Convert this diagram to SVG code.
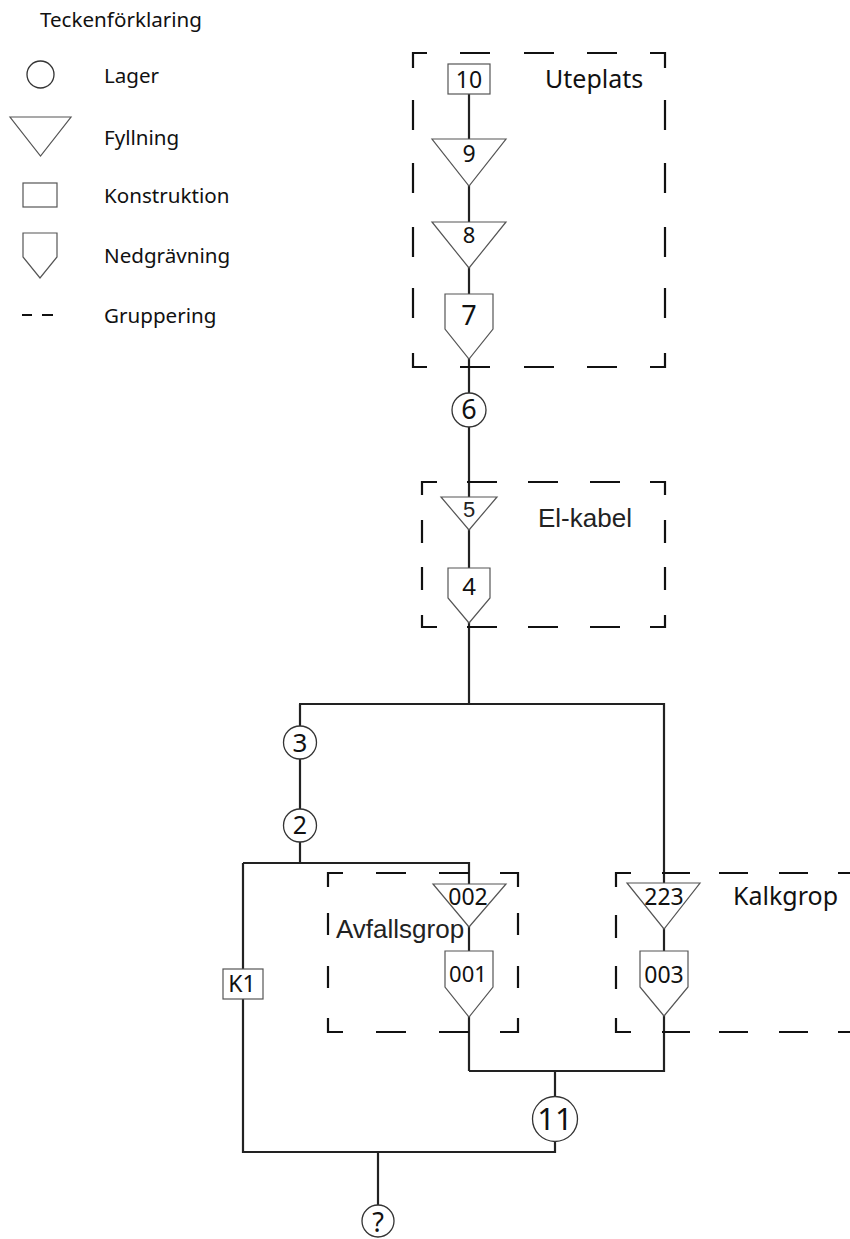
<svg xmlns="http://www.w3.org/2000/svg" width="850" height="1239" viewBox="0 0 850 1239">
<style>
.bg{fill:#fff}
.shape{fill:#fff;stroke:#555;stroke-width:1.2}
.circ{fill:#fff;stroke:#333;stroke-width:1.3}
.conn{fill:none;stroke:#222;stroke-width:2.2}
.grp{fill:none;stroke:#111;stroke-width:2.2}
.t{font-family:"Noto Sans","Open Sans",sans-serif;fill:#111}
.a{font-family:"Liberation Sans",Arial,sans-serif;fill:#222}
.m{text-anchor:middle}
</style>
<rect class="bg" x="0" y="0" width="850" height="1239"/>

<g id="legend">
  <text class="t" x="40" y="27" font-size="20.6">Teckenförklaring</text>
  <circle class="circ" cx="40.5" cy="74.5" r="13.5"/>
  <text class="t" x="104" y="83" font-size="20.6">Lager</text>
  <polygon class="shape" points="10,117 71,117 40.5,156"/>
  <text class="t" x="104" y="145" font-size="20.6">Fyllning</text>
  <rect class="shape" x="23" y="183" width="34" height="24"/>
  <text class="t" x="104" y="203" font-size="20.6">Konstruktion</text>
  <polygon class="shape" points="23,233 57,233 57,257 40,278 23,257"/>
  <text class="t" x="104" y="263" font-size="20.6">Nedgrävning</text>
  <path class="grp" d="M22,315 H32 M42,315 H53"/>
  <text class="t" x="104" y="323" font-size="20.6">Gruppering</text>
</g>

<g id="connectors">
  <path class="conn" d="M469,94 V704"/>
  <path class="conn" d="M299,704 H664 V1071 H469"/>
  <path class="conn" d="M300,704 V863"/>
  <path class="conn" d="M243,863 H469 V1071"/>
  <path class="conn" d="M243,863 V1152 H555 V1071"/>
  <path class="conn" d="M378,1152 V1205"/>
</g>

<g id="grp-uteplats">
  <path class="grp" d="M413,68 V53 H427 M460,53 H490 M524,53 H554 M587,53 H617 M650,53 H665 V68 M413,100 V130 M413,163 V193 M413,227 V257 M413,288 V318 M665,100 V130 M665,163 V193 M665,227 V257 M665,288 V318 M413,353 V367 H427 M460,367 H490 M524,367 H554 M587,367 H617 M650,367 H665 V353"/>
  <text class="t" x="545" y="88" font-size="25">Uteplats</text>
</g>

<g id="grp-elkabel">
  <path class="grp" d="M422,495 V482 H437 M467,482 H497 M528,482 H558 M590,482 H620 M650,482 H665 V495 M422,520 V543 M422,567 V590 M665,520 V543 M665,567 V590 M422,615 V627 H437 M467,627 H497 M528,627 H558 M590,627 H620 M650,627 H665 V615"/>
  <text class="a" x="538" y="527" font-size="26">El-kabel</text>
</g>

<g id="grp-avfallsgrop">
  <path class="grp" d="M328,887 V873 H343 M376,873 H406 M439,873 H469 M500,873 H518 V887 M328,913 V935 M328,966 V988 M518,913 V935 M518,966 V988 M328,1018 V1032 H343 M376,1032 H406 M439,1032 H469 M500,1032 H518 V1018"/>
  <text class="a" x="336" y="938" font-size="26">Avfallsgrop</text>
</g>

<g id="grp-kalkgrop">
  <path class="grp" d="M616,887 V873 H631 M662,873 H690 M719,873 H748 M779,873 H808 M838,873 H868 M616,915 V938 M616,966 V989 M616,1018 V1032 H631 M662,1032 H690 M719,1032 H748 M779,1032 H808 M838,1032 H868"/>
  <text class="t" x="733" y="905" font-size="25">Kalkgrop</text>
</g>

<g id="n10">
  <rect class="shape" x="448" y="64" width="42" height="30"/>
  <text class="t m" x="469" y="88" font-size="23">10</text>
</g>
<g id="n9">
  <polygon class="shape" points="432,139 506,139 469,186"/>
  <text class="t m" x="469" y="162" font-size="23">9</text>
</g>
<g id="n8">
  <polygon class="shape" points="432,222 506,222 469,268"/>
  <text class="t m" x="469" y="243" font-size="22">8</text>
</g>
<g id="n7">
  <polygon class="shape" points="445,294 493,294 493,329 469,359 445,329"/>
  <text class="t m" x="469" y="325" font-size="27">7</text>
</g>
<g id="n6">
  <circle class="circ" cx="469" cy="410" r="17"/>
  <text class="t m" x="469" y="419" font-size="27">6</text>
</g>
<g id="n5">
  <polygon class="shape" points="441,497 497,497 469,530"/>
  <text class="a m" x="469" y="517" font-size="22">5</text>
</g>
<g id="n4">
  <polygon class="shape" points="448,568 490,568 490,598 469,623 448,598"/>
  <text class="t m" x="469" y="595" font-size="24">4</text>
</g>
<g id="n3">
  <circle class="circ" cx="300" cy="742.5" r="16.5"/>
  <text class="t m" x="300" y="752" font-size="26">3</text>
</g>
<g id="n2">
  <circle class="circ" cx="300" cy="825.5" r="16.5"/>
  <text class="t m" x="300" y="834" font-size="25">2</text>
</g>
<g id="n002">
  <polygon class="shape" points="433,884 506,884 469,927"/>
  <text class="t m" x="468" y="905" font-size="23">002</text>
</g>
<g id="n001">
  <polygon class="shape" points="445,951 493,951 493,987 469,1017 445,987"/>
  <text class="t m" x="468" y="982" font-size="22">001</text>
</g>
<g id="n223">
  <polygon class="shape" points="627,883 700,883 664,929"/>
  <text class="t m" x="664" y="905" font-size="23">223</text>
</g>
<g id="n003">
  <polygon class="shape" points="640,951 688,951 688,987 664,1016 640,987"/>
  <text class="t m" x="664" y="983" font-size="23">003</text>
</g>
<g id="nK1">
  <rect class="shape" x="223" y="969" width="40" height="30"/>
  <text class="t m" x="242" y="992" font-size="23">K1</text>
</g>
<g id="n11">
  <circle class="circ" cx="555" cy="1119" r="22.5"/>
  <text class="t m" x="555" y="1130" font-size="31">11</text>
</g>
<g id="nq">
  <circle class="circ" cx="378" cy="1221" r="16"/>
  <text class="t m" x="378" y="1232" font-size="27">?</text>
</g>
</svg>
